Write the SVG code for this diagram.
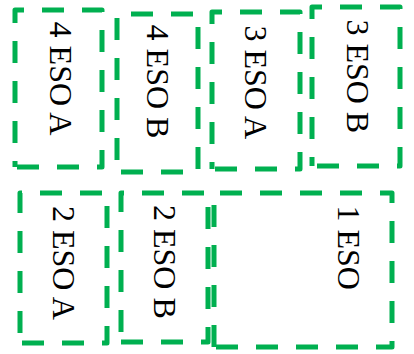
<svg xmlns="http://www.w3.org/2000/svg" width="414" height="354" viewBox="0 0 414 354">
<style>
.box{fill:none;stroke:#00b050;stroke-width:5;stroke-linejoin:round;stroke-linecap:butt;stroke-dasharray:22 18}
.lbl{font-family:"Liberation Serif","Times New Roman",serif;font-size:32px;fill:#000}
</style>
<rect width="414" height="354" fill="#fff"/>
<g id="connectors"></g>
<g id="n4A">
<path class="box" d="M15 167V10H102V167Z" stroke-dashoffset="16"/>
<text class="lbl" transform="translate(50 21.6) rotate(90)">4 ESO A</text>
</g>
<g id="n4B">
<path class="box" d="M117 172V14H198V172Z" stroke-dashoffset="-12"/>
<text class="lbl" transform="translate(147 24.6) rotate(90)">4 ESO B</text>
</g>
<g id="n3A">
<path class="box" d="M212 169V12H300V169Z" stroke-dashoffset="15"/>
<text class="lbl" transform="translate(245 25.4) rotate(90)">3 ESO A</text>
</g>
<g id="n3B">
<path class="box" d="M312 166V7H400V166Z" stroke-dashoffset="13"/>
<text class="lbl" transform="translate(347 19.4) rotate(90)">3 ESO B</text>
</g>
<g id="n2A">
<path class="box" d="M20 343V193H107V343Z" stroke-dashoffset="-10"/>
<text class="lbl" transform="translate(53 206) rotate(90)">2 ESO A</text>
</g>
<g id="n2B">
<path class="box" d="M121 342V193H208V342Z" stroke-dashoffset="-10"/>
<text class="lbl" transform="translate(154 205) rotate(90)">2 ESO B</text>
</g>
<g id="n1">
<path class="box" d="M214 347V193H392V347Z" stroke-dashoffset="0"/>
<text class="lbl" transform="translate(338 205.5) rotate(90)">1 ESO</text>
</g>
</svg>
